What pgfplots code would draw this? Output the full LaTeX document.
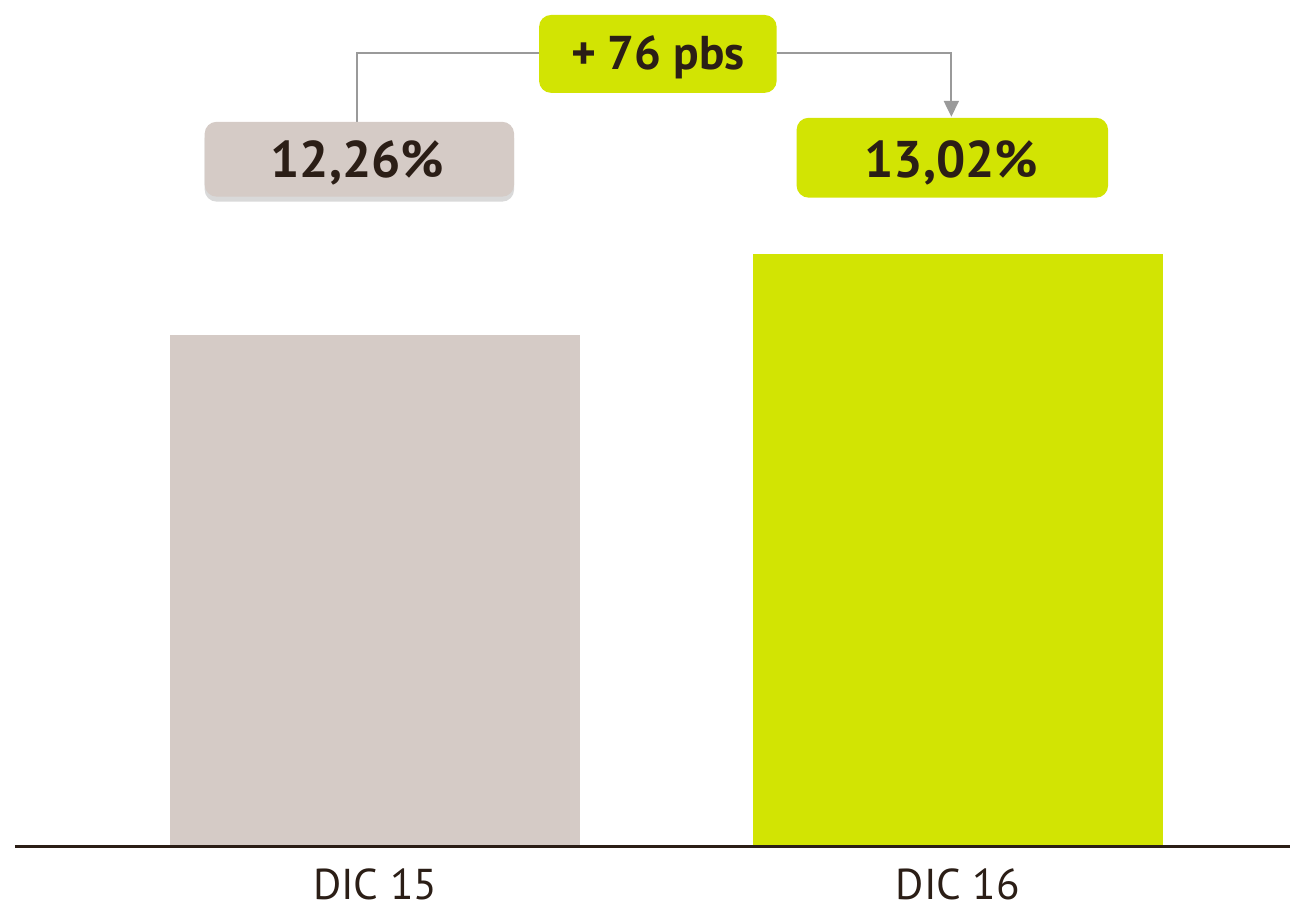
\documentclass[border=0pt]{standalone}
\usepackage{fontspec}
\setmainfont{PT Sans}
\usepackage{pgfplots}
\pgfplotsset{compat=1.18}
\usetikzlibrary{arrows.meta, shadows}
\definecolor{textdark}{HTML}{2B1E16}
\definecolor{barbeige}{HTML}{D5CBC6}
\definecolor{barlime}{HTML}{D2E403}
\definecolor{linkgray}{HTML}{9A9A9A}

\begin{document}
\begin{tikzpicture}
    \begin{axis}[
        at={(0.15cm,-8.47cm)}, anchor=south west,
        scale only axis,
        width=12.76cm, height=8.47cm,
        xmin=15, xmax=1291,
        ymin=7.465, ymax=15.41,
        axis x line*=bottom,
        axis y line=none,
        axis on top,
        xtick={375.5,959},
        xticklabels={DIC 15, DIC 16},
        major tick length=0pt,
        x axis line style={color=textdark, line width=0.85pt},
        xticklabel style={font=\fontsize{12.3}{15}\selectfont, text=textdark, yshift=-0.1cm},
        ybar, bar width=411, bar shift=0pt,
    ]
    \addplot[draw=none, fill=barbeige] coordinates {(375.5,12.26)};
    \addplot[draw=none, fill=barlime] coordinates {(959,13.02)};
    \end{axis}

    % labels and the change bracket, in image pixels
    \begin{scope}[x=0.01cm, y=-0.01cm]
    \path[use as bounding box] (0,0) rectangle (1291,908);
    \draw[linkgray, line width=0.6pt] (358,122) -- (358,53) -- (540,53);
    \draw[linkgray, line width=0.6pt, -{Triangle[length=0.16cm, width=0.15cm]}] (778,53) -- (953,53) -- (953,117);
    \fill[barbeige, rounded corners=0.12cm, drop shadow={shadow xshift=0pt, shadow yshift=-0.05cm, opacity=0.3}] (205,122) rectangle (515,197);
    \fill[barlime, rounded corners=0.12cm] (798,118) rectangle (1110,198);
    \fill[barlime, rounded corners=0.12cm] (540,15) rectangle (778,93);
    \node[text=textdark, font=\fontsize{14.7}{17}\selectfont\bfseries] at (358,163) {12,26\%};
    \node[text=textdark, font=\fontsize{14.7}{17}\selectfont\bfseries] at (953,163) {13,02\%};
    \node[text=textdark, font=\fontsize{13.5}{16}\selectfont\bfseries] at (659,57) {+ 76 pbs};
    \end{scope}
\end{tikzpicture}
\end{document}
